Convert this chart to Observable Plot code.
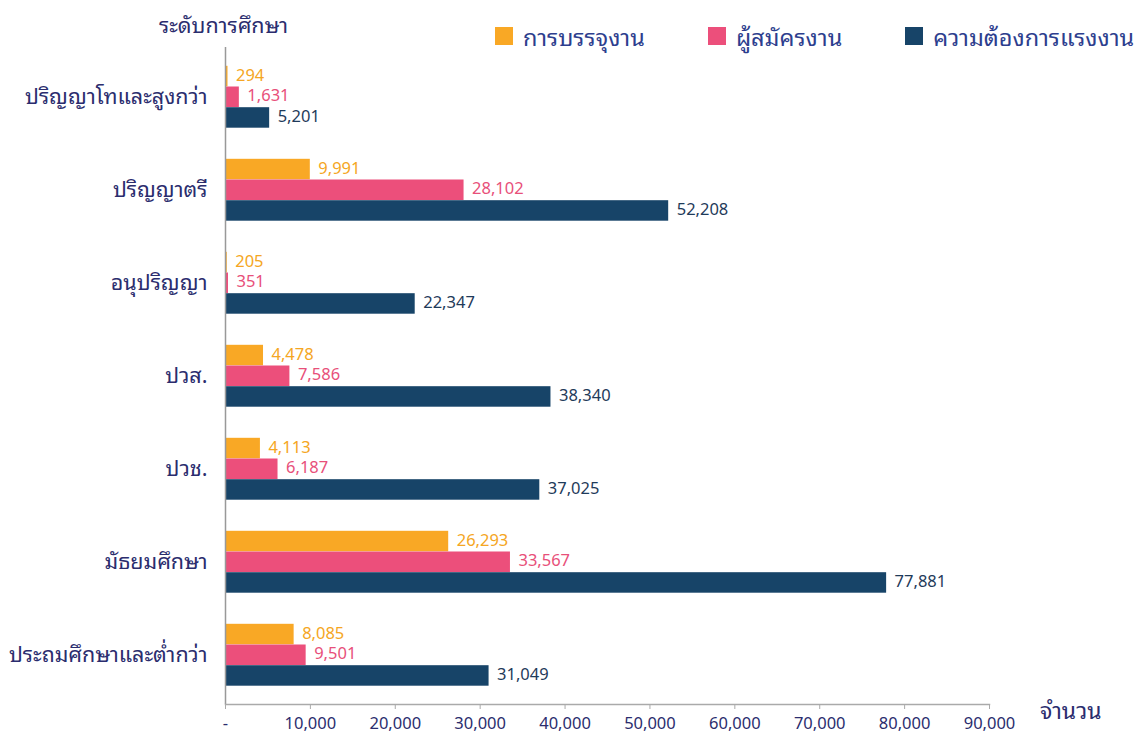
<!DOCTYPE html>
<html><head><meta charset="utf-8">
<script src="https://cdn.jsdelivr.net/npm/d3@7"></script>
<script src="https://cdn.jsdelivr.net/npm/@observablehq/plot@0.6"></script>
<style>
body{margin:0;background:#fff;font-family:"Noto Sans","Noto Sans Thai Looped","Loma","Noto Sans Thai",sans-serif;}
#wrap{position:relative;width:1144px;height:736px;}
#title{position:absolute;left:159px;top:6px;font-size:21.5px;color:#2b2d6e;}
#legend{position:absolute;left:495px;top:17px;width:649px;white-space:nowrap;}
#legend .lg-swatches{flex-wrap:nowrap;}
#legend .lg-swatch{margin-right:63px;}
#legend .lg-swatch:last-child{margin-right:0;}
#legend .lg-swatch svg{margin-right:10px;}
#unit{position:absolute;left:1040px;top:690px;font-size:23px;color:#2b2d6e;}
</style></head>
<body><div id="wrap"><div id="title">ระดับการศึกษา</div><div id="legend"></div><div id="unit">จำนวน</div></div>
<script>
const categories = ["ปริญญาโทและสูงกว่า","ปริญญาตรี","อนุปริญญา","ปวส.","ปวช.","มัธยมศึกษา","ประถมศึกษาและต่ำกว่า"];
const series = ["การบรรจุงาน","ผู้สมัครงาน","ความต้องการแรงงาน"];
const placement = [294, 9991, 205, 4478, 4113, 26293, 8085];
const applicants = [1631, 28102, 351, 7586, 6187, 33567, 9501];
const demand = [5201, 52208, 22347, 38340, 37025, 77881, 31049];
const xTicks = [0,10000,20000,30000,40000,50000,60000,70000,80000,90000];
const colors = ["#F9A825","#EC4F7B","#174468"];
const labelColors = ["#F5A623","#E8507A","#1F3B5A"];

const valuesBySeries = [placement, applicants, demand];
const data = series.map((s, i) => categories.map((c, j) => ({category: c, series: s, value: valuesBySeries[i][j]})));

const fmt = d3.format(",");
const bw = 20.7;
const offs = [-bw, 0, bw];
const FONT = '"Noto Sans","Noto Sans Thai Looped","Loma","Noto Sans Thai",sans-serif';

const marks = [];
series.forEach((s, i) => {
  marks.push(Plot.barX(data[i], {x: "value", y: "category", fill: colors[i], dy: offs[i], insetTop: 0.5, insetBottom: 0}));
  marks.push(Plot.text(data[i], {x: "value", y: "category", text: d => fmt(d.value), dy: offs[i] - 1, dx: 8, textAnchor: "start", fill: labelColors[i], fontSize: 16.5}));
});

const chart = Plot.plot({
  width: 1144,
  height: 736,
  marginLeft: 225,
  marginRight: 155,
  marginTop: 47,
  marginBottom: 32,
  style: {fontFamily: FONT, background: "transparent"},
  x: {domain: [0, 90000]},
  y: {domain: categories, paddingInner: 0.7794, paddingOuter: 0.39},
  marks: [
    ...marks,
    Plot.ruleX([0], {stroke: "#999", strokeWidth: 1.5}),
    Plot.frame({anchor: "bottom", stroke: "#aaa", strokeWidth: 1.5}),
    Plot.axisX({ticks: xTicks, tickFormat: d => d === 0 ? "-" : fmt(d), tickSize: 5, tickPadding: 8, fontSize: 16.5, color: "#2b2d6e", stroke: "#aaa", label: null}),
    Plot.axisY({tickSize: 0, tickPadding: 18, fontSize: 21.5, color: "#2b2d6e", label: null})
  ]
});
document.getElementById("wrap").prepend(chart);

const lg = Plot.legend({color: {type: "ordinal", domain: series, range: colors}, legend: "swatches", swatchSize: 18, className: "lg", style: {fontSize: "23.5px", color: "#2d3e8e", fontFamily: FONT}});
document.getElementById("legend").appendChild(lg);
</script></body></html>
